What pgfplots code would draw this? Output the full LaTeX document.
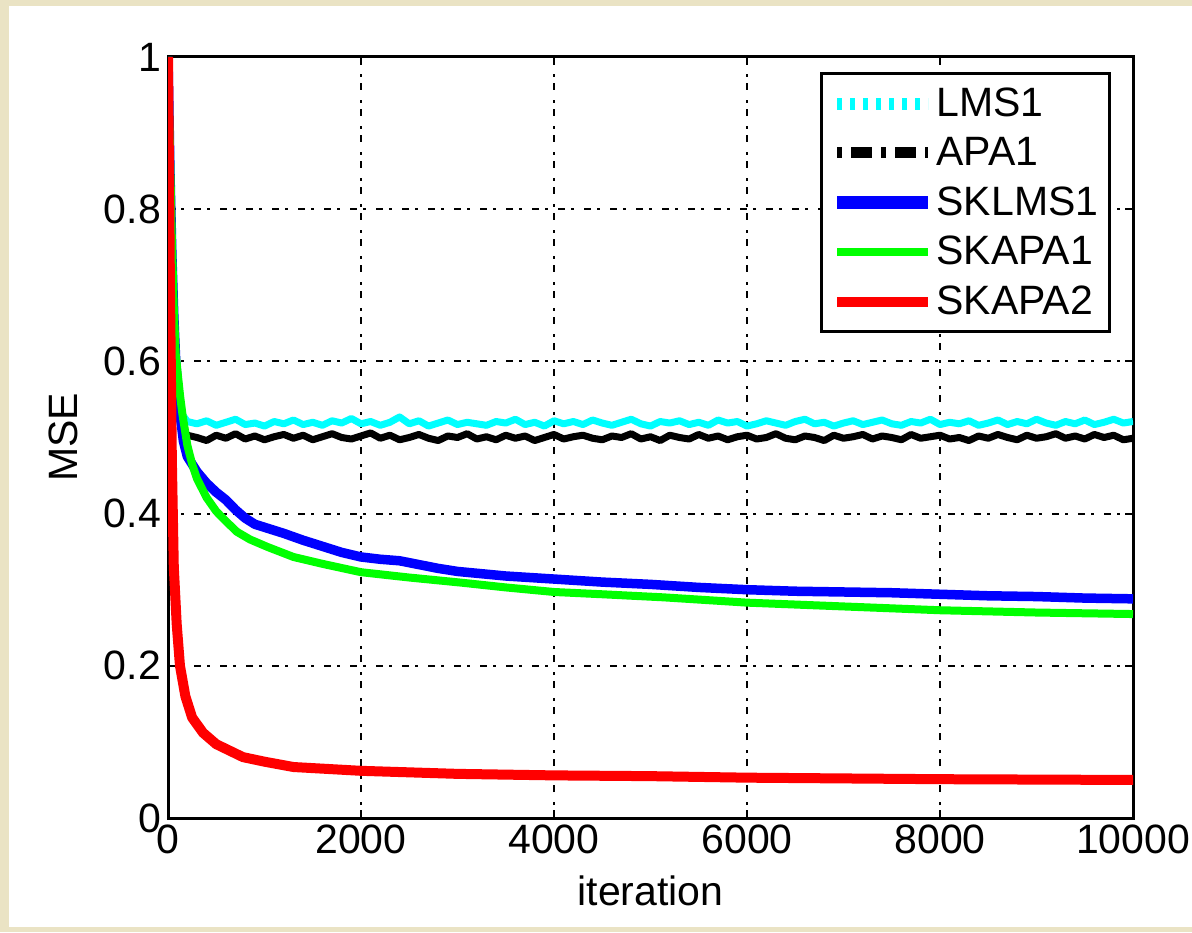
\documentclass[border=0pt]{standalone}
\usepackage{pgfplots}
\pgfplotsset{compat=1.18}
\usepackage{fontspec}
\setmainfont{Liberation Sans}
\definecolor{beige}{RGB}{234,227,196}
\definecolor{mcyan}{RGB}{0,255,255}
\definecolor{mgreen}{RGB}{0,255,0}
\definecolor{mblue}{RGB}{0,0,255}
\definecolor{mred}{RGB}{255,0,0}
\pgfplotsset{legend image code/.code={\draw[#1] (0pt,0pt) -- (45.5pt,0pt);}}
\begin{document}
\begin{tikzpicture}
\fill[beige] (0,0) rectangle (596pt,466pt);
\fill[white] (4.5pt,2.5pt) rectangle (596pt,463pt);
\useasboundingbox (0,0) rectangle (596pt,466pt);
\begin{axis}[
  at={(84pt,57pt)}, anchor=south west,
  scale only axis, width=482.5pt, height=380.5pt,
  xmin=0, xmax=10000, ymin=0, ymax=1,
  xtick={0,2000,4000,6000,8000,10000},
  xticklabels={0,2000,4000,6000,8000,10000},
  ytick={0,0.2,0.4,0.6,0.8,1},
  yticklabels={0,0.2,0.4,0.6,0.8,1},
  scaled ticks=false,
  /pgf/number format/assume math mode=true,
  tick label style={font=\fontsize{20.5}{24}\selectfont, black},
  label style={font=\fontsize{20.5}{24}\selectfont},
  xlabel={iteration}, ylabel={MSE},
  xlabel style={at={(axis description cs:0.5,0)}, anchor=base, yshift=-43.5pt},
  ylabel style={at={(axis description cs:-0.108,0.5)}, anchor=center},
  grid=major,
  major grid style={black, line width=1pt, dash pattern=on 3.5pt off 3pt on 1.5pt off 5pt},
  axis line style={black, line width=1.5pt},
  tick align=inside, major tick length=4pt,
  tick style={black, line width=1pt},
  legend style={at={(axis description cs:0.977,0.980)}, anchor=north east,
    draw=black, line width=1.5pt, fill=white,
    font=\fontsize{20.5}{24}\selectfont,
    row sep=7pt, inner xsep=4.5pt, inner ysep=6pt,
    nodes={inner sep=1pt}},
  legend cell align=left,
]
\addlegendimage{mcyan, line width=6pt, dash pattern=on 2.5pt off 4pt}
\addlegendimage{black, line width=5.5pt, dash pattern=on 2.5pt off 4.5pt on 10.5pt off 4.5pt}
\addlegendimage{mblue, line width=6.5pt}
\addlegendimage{mgreen, line width=4pt}
\addlegendimage{mred, line width=5pt}
\legend{LMS1,APA1,SKLMS1,SKAPA1,SKAPA2}

% LMS1
\addplot[forget plot, mcyan, line width=3.5pt, line join=round] coordinates {
(0,1)(25,0.85)(50,0.72)(75,0.63)(100,0.575)(125,0.545)(150,0.53)(200,0.521)
(300,0.518)(400,0.522)(500,0.516)(600,0.520)(700,0.524)(800,0.517)(900,0.519)(1000,0.515)(1100,0.521)(1200,0.518)
(1300,0.523)(1400,0.517)(1500,0.520)(1600,0.516)(1700,0.522)(1800,0.519)(1900,0.525)(2000,0.518)(2100,0.521)(2200,0.516)
(2300,0.520)(2400,0.527)(2500,0.518)(2600,0.522)(2700,0.515)(2800,0.519)(2900,0.523)(3000,0.517)(3100,0.520)(3200,0.518)
(3300,0.516)(3400,0.521)(3500,0.519)(3600,0.524)(3700,0.517)(3800,0.520)(3900,0.515)(4000,0.522)(4100,0.518)(4200,0.521)
(4300,0.517)(4400,0.523)(4500,0.519)(4600,0.516)(4700,0.520)(4800,0.524)(4900,0.518)(5000,0.515)(5100,0.521)(5200,0.519)
(5300,0.522)(5400,0.517)(5500,0.520)(5600,0.516)(5700,0.523)(5800,0.519)(5900,0.521)(6000,0.515)(6100,0.518)(6200,0.522)
(6300,0.519)(6400,0.516)(6500,0.521)(6600,0.524)(6700,0.518)(6800,0.520)(6900,0.515)(7000,0.519)(7100,0.522)(7200,0.517)
(7300,0.520)(7400,0.523)(7500,0.518)(7600,0.516)(7700,0.521)(7800,0.519)(7900,0.524)(8000,0.517)(8100,0.520)(8200,0.518)
(8300,0.522)(8400,0.516)(8500,0.519)(8600,0.523)(8700,0.517)(8800,0.521)(8900,0.518)(9000,0.524)(9100,0.519)(9200,0.516)
(9300,0.521)(9400,0.518)(9500,0.523)(9600,0.517)(9700,0.520)(9800,0.524)(9900,0.519)(10000,0.521)
};
% APA1
\addplot[forget plot, black, line width=3.5pt, line join=round] coordinates {
(0,1)(25,0.84)(50,0.71)(75,0.62)(100,0.56)(125,0.53)(150,0.512)(200,0.503)
(300,0.500)(400,0.496)(500,0.503)(600,0.499)(700,0.505)(800,0.498)(900,0.502)(1000,0.497)(1100,0.501)(1200,0.504)
(1300,0.499)(1400,0.503)(1500,0.497)(1600,0.501)(1700,0.505)(1800,0.500)(1900,0.498)(2000,0.502)(2100,0.506)(2200,0.499)
(2300,0.503)(2400,0.497)(2500,0.500)(2600,0.504)(2700,0.499)(2800,0.496)(2900,0.502)(3000,0.500)(3100,0.505)(3200,0.498)
(3300,0.501)(3400,0.497)(3500,0.503)(3600,0.499)(3700,0.502)(3800,0.496)(3900,0.500)(4000,0.504)(4100,0.498)(4200,0.501)
(4300,0.503)(4400,0.499)(4500,0.497)(4600,0.502)(4700,0.500)(4800,0.505)(4900,0.498)(5000,0.501)(5100,0.496)(5200,0.503)
(5300,0.500)(5400,0.498)(5500,0.504)(5600,0.499)(5700,0.502)(5800,0.497)(5900,0.501)(6000,0.503)(6100,0.498)(6200,0.500)
(6300,0.505)(6400,0.499)(6500,0.497)(6600,0.502)(6700,0.500)(6800,0.496)(6900,0.503)(7000,0.499)(7100,0.501)(7200,0.504)
(7300,0.498)(7400,0.502)(7500,0.500)(7600,0.497)(7700,0.504)(7800,0.499)(7900,0.501)(8000,0.503)(8100,0.498)(8200,0.500)
(8300,0.496)(8400,0.502)(8500,0.499)(8600,0.504)(8700,0.500)(8800,0.497)(8900,0.503)(9000,0.499)(9100,0.501)(9200,0.505)
(9300,0.499)(9400,0.502)(9500,0.498)(9600,0.504)(9700,0.500)(9800,0.503)(9900,0.497)(10000,0.499)
};
% SKLMS1
\addplot[forget plot, mblue, line width=4.75pt, line join=round] coordinates {
(0,1)(20,0.85)(40,0.74)(60,0.66)(80,0.6)(100,0.565)(130,0.525)(160,0.495)(200,0.475)(300,0.455)(400,0.44)
(500,0.428)(600,0.418)(700,0.405)(800,0.394)(900,0.386)(1000,0.382)(1200,0.374)(1400,0.365)(1600,0.357)
(1800,0.349)(2000,0.343)(2200,0.340)(2400,0.338)(2600,0.333)(2800,0.328)(3000,0.324)(3500,0.318)(4000,0.314)
(4500,0.310)(5000,0.307)(5500,0.303)(6000,0.300)(6500,0.298)(7000,0.297)(7500,0.296)(8000,0.294)
(8500,0.292)(9000,0.291)(9500,0.289)(10000,0.288)
};
% SKAPA1
\addplot[forget plot, mgreen, line width=4pt, line join=round] coordinates {
(0,1)(20,0.88)(40,0.76)(60,0.67)(80,0.61)(100,0.585)(125,0.555)(150,0.53)(200,0.49)(250,0.465)(300,0.446)
(400,0.421)(500,0.403)(600,0.39)(715,0.376)(850,0.366)(1035,0.356)(1300,0.343)(1600,0.334)(2000,0.323)
(2500,0.316)(3060,0.309)(3500,0.303)(4000,0.297)(4500,0.294)(5130,0.290)(6000,0.283)(7000,0.278)(8000,0.273)
(9000,0.270)(10000,0.268)
};
% SKAPA2
\addplot[forget plot, mred, line width=5pt, line join=round] coordinates {
(0,1)(10,0.85)(20,0.7)(40,0.47)(60,0.33)(90,0.255)(124,0.2)(180,0.16)(250,0.132)(363,0.112)(500,0.097)
(777,0.080)(1000,0.074)(1300,0.067)(2000,0.062)(3000,0.058)(4000,0.056)(5000,0.055)(6000,0.053)(8000,0.051)(10000,0.050)
};
\end{axis}
\end{tikzpicture}
\end{document}
